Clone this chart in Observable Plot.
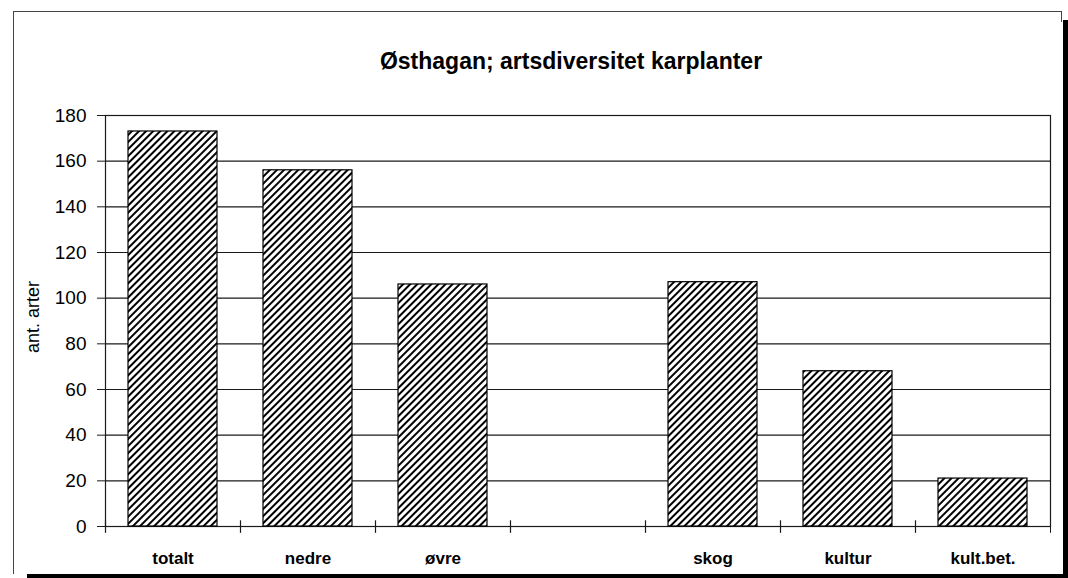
<!DOCTYPE html>
<html><head><meta charset="utf-8">
<script src="https://cdn.jsdelivr.net/npm/d3@7"></script>
<script src="https://cdn.jsdelivr.net/npm/@observablehq/plot@0.6"></script>
<style>
body{margin:0;background:#fff;}
#wrap{position:relative;width:1068px;height:578px;overflow:hidden;}
#wrap svg{position:absolute;left:0;top:0;}
.f{position:absolute;}
</style></head><body><div id="wrap"></div>
<script>
const categories = ["totalt", "nedre", "øvre", "", "skog", "kultur", "kult.bet."];
const values = [173, 156, 106, null, 107, 68, 21];
const yTicks = [0, 20, 40, 60, 80, 100, 120, 140, 160, 180];
const title = "Østhagan; artsdiversitet karplanter";
const yLabel = "ant. arter";

const data = categories.map((c, i) => ({c, v: values[i]})).filter(d => d.v != null);

const W = 1068, H = 578, mL = 105, mR = 18, mT = 115, mB = 52;
const step = (W - mL - mR) / categories.length;
const lineColor = "#1a1a1a";

const chart = Plot.plot({
  width: W, height: H,
  marginLeft: mL, marginRight: mR, marginTop: mT, marginBottom: mB,
  style: {fontFamily: "'Liberation Sans', Arial, sans-serif", color: "black", background: "white"},
  x: {domain: categories, paddingInner: 0.34, paddingOuter: 0.17},
  y: {domain: [0, 180], ticks: yTicks},
  marks: [
    Plot.ruleY(yTicks, {stroke: lineColor, strokeWidth: 1.2}),
    Plot.frame({stroke: lineColor, strokeWidth: 1.2}),
    Plot.barY(data, {x: "c", y: "v", fill: "url(#hatch)", stroke: "black", strokeWidth: 1.2}),
    Plot.ruleX(categories, {x: d => d, dx: -step / 2, y1: -3, y2: 2.5, stroke: lineColor, strokeWidth: 1.2}),
    Plot.ruleX(categories.slice(-1), {x: d => d, dx: step / 2, y1: -3, y2: 0, stroke: lineColor}),
    Plot.axisY(yTicks, {tickSize: 8, tickPadding: 11, fontSize: 19, label: null, stroke: lineColor}),
    Plot.axisX({tickSize: 0, tickPadding: 25, fontSize: 17, fontWeight: "bold", label: null}),
    Plot.text([title], {frameAnchor: "top", dy: -63, dx: -7, fontSize: 23, fontWeight: "bold", text: d => d}),
    Plot.text([yLabel], {frameAnchor: "left", rotate: -90, textAnchor: "middle", dx: -72, dy: -4, fontSize: 18, text: d => d})
  ]
});

const defs = d3.select(chart).insert("defs", ":first-child");
const pat = defs.append("pattern").attr("id", "hatch")
  .attr("patternUnits", "userSpaceOnUse")
  .attr("width", 5).attr("height", 5)
  .attr("patternTransform", "rotate(45)");
pat.append("rect").attr("width", 5).attr("height", 5).attr("fill", "white");
pat.append("rect").attr("x", 0).attr("width", 2).attr("height", 5).attr("fill", "black");

const wrap = document.getElementById("wrap");
wrap.appendChild(chart);
function box(l, t, w, h, c) {
  const d = document.createElement("div");
  d.className = "f";
  Object.assign(d.style, {left: l + "px", top: t + "px", width: w + "px", height: h + "px", background: c});
  wrap.appendChild(d);
}
box(13, 11, 1, 563, "#444");
box(13, 11, 1049, 1, "#444");
box(1061, 11, 1, 11, "#444");
box(1063, 20, 5, 558, "black");
box(27, 574, 1041, 4, "black");
</script></body></html>
